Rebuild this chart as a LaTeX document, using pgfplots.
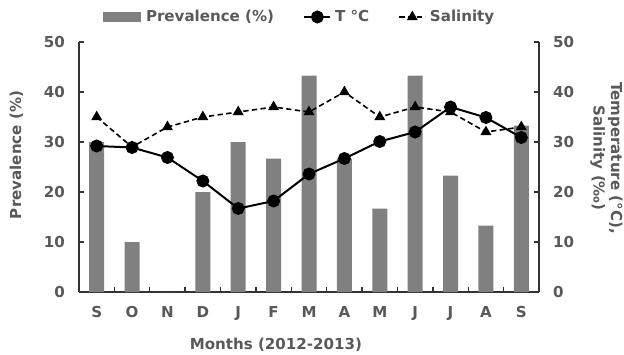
\documentclass[border=0pt]{standalone}
\usepackage{fontspec}
\setmainfont{DejaVu Sans}
\usepackage{pgfplots}
\pgfplotsset{compat=1.18}
\definecolor{txt}{HTML}{595959}
\definecolor{barc}{HTML}{808080}
\definecolor{axc}{HTML}{333333}
\newcommand{\ff}{\fontsize{11.3}{13.2}\selectfont\bfseries}
\begin{document}
\begin{tikzpicture}[font=\ff]
\pgfplotsset{
  common/.style={
    scale only axis, width=345pt, height=187.5pt,
    xmin=-0.5, xmax=12.5, ymin=0, ymax=50,
    ytick={0,10,...,50},
    tick align=inside,
    major tick length=3.75pt, minor tick length=3.75pt,
    every tick/.style={axc, line width=1pt},
    axis line style={axc, line width=1.1pt},
    tick label style={color=txt, font=\ff},
    /pgf/number format/assume math mode=true,
  }
}
\begin{axis}[common,
  axis y line*=left, axis x line*=bottom,
  xtick={0,...,12}, xticklabels={S,O,N,D,J,F,M,A,M,J,J,A,S},
  minor xtick={0.5,1.5,...,11.5},
  major x tick style={draw=none},
  xticklabel style={yshift=-7.5pt},
  yticklabel style={xshift=-7pt},
  every axis y label/.style={at={(axis description cs:-0.1359,0.548)}, rotate=90, anchor=center, color=txt},
  every axis x label/.style={at={(axis description cs:0.428,-0.212)}, anchor=center, color=txt},
  ylabel={Prevalence (\%)},
  xlabel={Months (2012-2013)},
]
\addplot[ybar, bar width=11.25pt, fill=barc, draw=none] coordinates {
 (0,30) (1,10) (2,0) (3,20) (4,30) (5,26.7) (6,43.3) (7,26.7) (8,16.7) (9,43.3) (10,23.3) (11,13.3) (12,33.3)};
\end{axis}
\begin{axis}[common,
  axis y line*=right, axis x line=none,
  yticklabel style={xshift=7pt},
  every axis y label/.style={at={(axis description cs:1.1467,0.536)}, rotate=-90, anchor=center, color=txt, align=center},
  ylabel={Temperature (°C),\\Salinity (‰)},
  legend columns=3,
  legend style={draw=none, fill=none, at={(axis description cs:0.48,1.1)}, anchor=center,
    text=txt, font=\ff,
    /tikz/every even column/.append style={column sep=20pt},
    cells={anchor=west}, inner sep=0pt},
  legend image code/.code={\draw[mark repeat=2,mark phase=2] plot coordinates {(0pt,0pt) (9.75pt,0pt) (19.5pt,0pt)};
    \path[draw=none] (0pt,0pt) -- (21pt,0pt);},
]
\addlegendimage{draw=none, legend image code/.code={\fill[barc] (0pt,-3.75pt) rectangle (28.5pt,3.75pt); \path[draw=none] (0pt,0pt) -- (30.5pt,0pt);}}
\addlegendentry{Prevalence (\%)}
\addplot[black, line width=1.5pt, mark=*, mark size=4.1pt] coordinates {
 (0,29.2) (1,28.9) (2,26.9) (3,22.2) (4,16.7) (5,18.2) (6,23.6) (7,26.7) (8,30.1) (9,32) (10,37) (11,34.9) (12,30.9)};
\addlegendentry{T °C}
\addplot[black, line width=1.2pt, dash pattern=on 4pt off 2.5pt, mark=triangle*, mark size=3.6pt, mark options={solid}] coordinates {
 (0,35) (1,29) (2,33) (3,35) (4,36) (5,37) (6,36) (7,40) (8,35) (9,37) (10,36) (11,32) (12,33)};
\addlegendentry{Salinity}
\end{axis}
\pgfresetboundingbox
\path[use as bounding box] (-59.25pt,-46.5pt) rectangle (408.75pt,219pt);
\end{tikzpicture}
\end{document}
